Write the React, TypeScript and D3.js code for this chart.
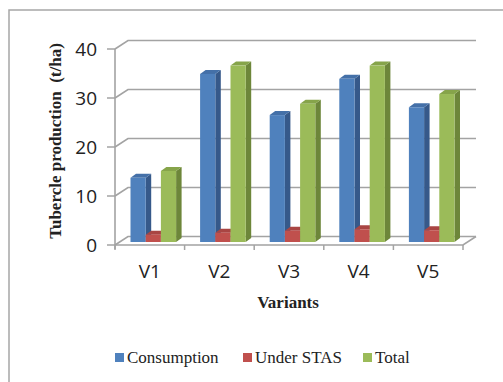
import React from "react";
import * as d3 from "d3";

const categories = ["V1", "V2", "V3", "V4", "V5"];
const seriesNames = ["Consumption", "Under STAS", "Total"];
const consumption = [13.1, 34.3, 25.9, 33.3, 27.5];
const underStas = [1.5, 1.9, 2.3, 2.6, 2.4];
const total = [14.5, 36.0, 28.2, 36.0, 30.2];
const yTicks = [0, 10, 20, 30, 40];

const seriesValues = [consumption, underStas, total];
const fronts = ["#4F81BD", "#C0504D", "#9BBB59"];
const tops = ["#4470a8", "#a94543", "#86a44a"];
const sides = ["#36598a", "#8a3532", "#6d863a"];

const W = 503, H = 382;
const X0 = 115, X1 = 463, Y0 = 245, Y1 = 49;
const WDX = 13, WDY = -8.5; // wall depth
const BFX = 4.5, BFY = -3; // bar front offset
const BDX = 5.5, BDY = -4; // bar depth
const GRID = "#a3a3a3";

export default function App() {
  const x = d3.scaleBand<string>().domain(categories).range([X0, X1]);
  const y = d3.scaleLinear().domain([0, 40]).range([Y0, Y1]);
  const inner = d3.scaleBand<string>().domain(seriesNames).range([11, 11 + 45.6]);

  const bars: React.ReactNode[] = [];
  categories.forEach((c, ci) => {
    seriesNames.forEach((s, si) => {
      const v = seriesValues[si][ci];
      const xl = (x(c) as number) + (inner(s) as number) + BFX;
      const w = inner.bandwidth();
      const yb = Y0 + BFY;
      const yt = y(v) + BFY;
      const xr = xl + w;
      bars.push(
        <g key={c + s}>
          <polygon points={`${xr},${yb} ${xr + BDX},${yb + BDY} ${xr + BDX},${yt + BDY} ${xr},${yt}`} fill={sides[si]} />
          <polygon points={`${xl},${yt} ${xl + BDX},${yt + BDY} ${xr + BDX},${yt + BDY} ${xr},${yt}`} fill={tops[si]} />
          <rect x={xl} y={yt} width={w} height={yb - yt} fill={fronts[si]} />
        </g>
      );
    });
  });

  return (
    <svg width={W} height={H} style={{ position: "absolute", left: 0, top: 0 }}>
      <rect width={W} height={H} fill="#fff" />
      {/* frame */}
      <path d={`M9,${H} V10 H${W}`} fill="none" stroke="#a6a6a6" strokeWidth={1.5} />
      {/* gridlines / back wall */}
      {yTicks.map((t) => (
        <g key={t}>
          <path d={`M${X0},${y(t)} L${X0 + WDX},${y(t) + WDY} H${X1 + WDX}`} fill="none" stroke={GRID} strokeWidth={1.6} />
          <line x1={X0 - 8} x2={X0} y1={y(t)} y2={y(t)} stroke={GRID} strokeWidth={1.5} />
          <text x={97} y={y(t)} dy="0.36em" textAnchor="end" fontFamily="Open Sans" fontSize={19} fill="#222">{t}</text>
        </g>
      ))}
      {/* floor */}
      <path d={`M${X0},${Y0} H${X1} L${X1 + WDX},${Y0 + WDY}`} fill="none" stroke={GRID} strokeWidth={1.6} />
      <line x1={X0} x2={X0} y1={Y1} y2={Y0 + 4} stroke={GRID} strokeWidth={1.6} />
      {categories.concat(["end"]).map((c, i) => {
        const xx = X0 + i * x.bandwidth();
        return <line key={c} x1={xx} x2={xx} y1={Y0} y2={Y0 + 5} stroke={GRID} strokeWidth={1.5} />;
      })}
      {bars}
      {categories.map((c) => (
        <text key={c} x={(x(c) as number) + x.bandwidth() / 2} y={278} textAnchor="middle" fontFamily="Open Sans" fontSize={19} fill="#222">{c}</text>
      ))}
      <text x={288} y={308} textAnchor="middle" fontFamily="Liberation Serif" fontWeight="bold" fontSize={17} fill="#222">Variants</text>
      <text transform={`translate(61,141) rotate(-90)`} textAnchor="middle" fontFamily="Liberation Serif" fontWeight="bold" fontSize={17} fill="#222" style={{ whiteSpace: "pre" }}>Tubercle production  (t/ha)</text>
      {/* legend */}
      {[{ x: 115 }, { x: 243 }, { x: 363 }].map((p, i) => (
        <g key={i}>
          <rect x={p.x} y={353} width={9} height={9} fill={fronts[i]} />
          <text x={p.x + 12} y={363} fontFamily="Liberation Serif" fontSize={17} fill="#222">{seriesNames[i]}</text>
        </g>
      ))}
    </svg>
  );
}
